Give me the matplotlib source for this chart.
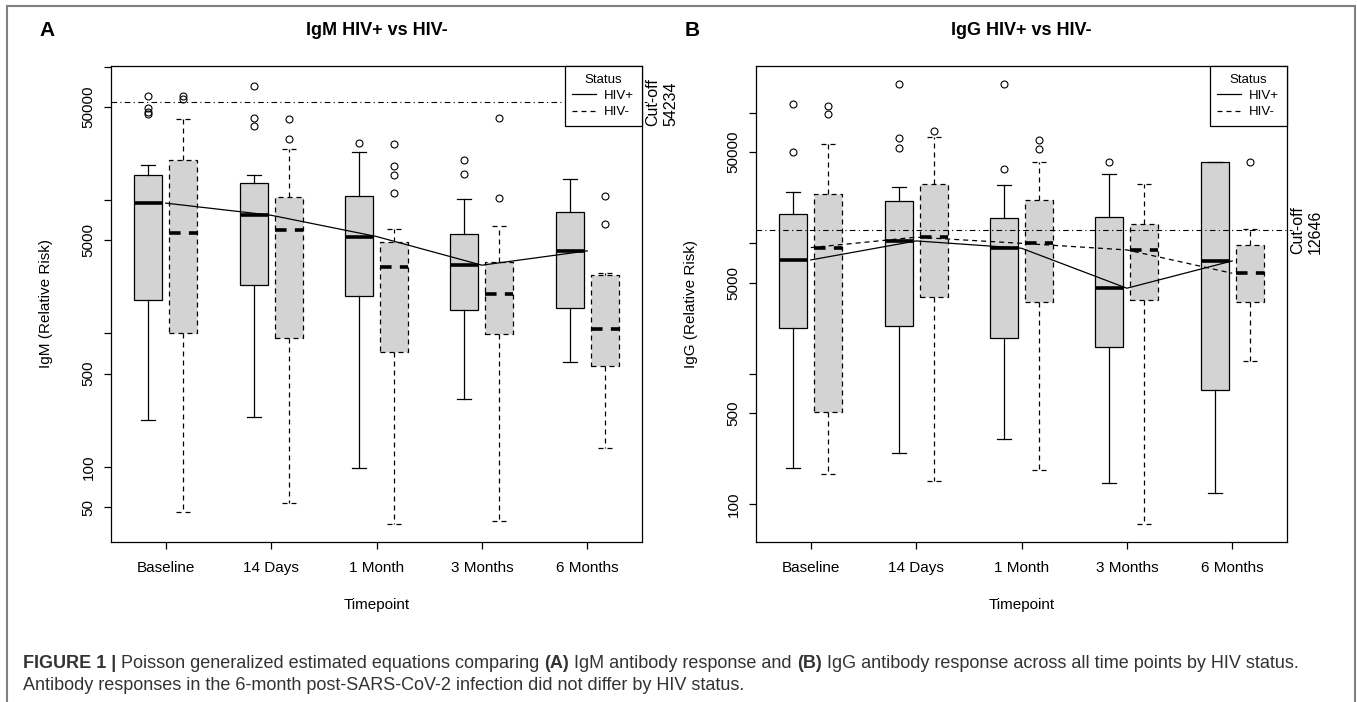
import matplotlib
matplotlib.use('Agg')
import matplotlib.pyplot as plt
import matplotlib.transforms as mtransforms
from matplotlib.lines import Line2D
from matplotlib.patches import Rectangle
from matplotlib.ticker import FixedLocator, FixedFormatter, NullLocator

plt.rcParams['font.family'] = ['Liberation Sans', 'DejaVu Sans']

timepoints = ['Baseline', '14 Days', '1 Month', '3 Months', '6 Months']

# five-number summaries per timepoint: (lower whisker, Q1, median, Q3, upper whisker)
igm_pos_stats = [(225, 1774, 9480, 15500, 18150),
                 (238, 2295, 7690, 13400, 15350),
                 (98, 1910, 5330, 10640, 22800),
                 (325, 1510, 3250, 5610, 10120),
                 (611, 1546, 4160, 8180, 14500)]
igm_pos_out = [[60000, 49000, 46000, 44000], [71000, 41000, 36000], [26900], [20000, 15600], []]

igm_neg_stats = [(45.6, 1016, 5670, 19860, 40700),
                 (53.6, 933, 5970, 10470, 24150),
                 (37.3, 721, 3145, 4830, 6070),
                 (39.5, 989, 1977, 3440, 6440),
                 (139, 574, 1079, 2740, 2850)]
igm_neg_out = [[60000, 56700], [40600, 28700], [26200, 17900, 15500, 11200], [40900, 10280], [10640, 6580]]

igg_pos_stats = [(190, 2262, 7460, 16700, 24750),
                 (250, 2344, 10430, 21240, 27170),
                 (316, 1875, 9170, 15560, 27850),
                 (145, 1609, 4530, 15850, 34200),
                 (122, 753, 7330, 41800, 41800)]
igg_pos_out = [[117000, 50000], [165000, 63800, 54000], [165000, 37100], [41800], []]

igg_neg_stats = [(171, 508, 9270, 24000, 57700),
                 (150, 3907, 11140, 28300, 64900),
                 (184, 3577, 10000, 21600, 41800),
                 (71, 3686, 8900, 14000, 28600),
                 (1264, 3540, 5900, 9720, 12960)]
igg_neg_out = [[112700, 97400], [72600], [61900, 52800], [], [41800]]

igm_cutoff = 54234
igg_cutoff = 12646

igm_ticks = [50, 100, 500, 1000, 5000, 10000, 50000, 100000]
igm_ticklabels = ['50', '100', '500', '', '5000', '', '50000', '']
igg_ticks = [100, 500, 1000, 5000, 10000, 50000, 100000]
igg_ticklabels = ['100', '500', '', '5000', '', '50000', '']


def build_stats(stats, outliers):
    out = []
    for (lo, q1, med, q3, hi), fl in zip(stats, outliers):
        out.append(dict(whislo=lo, q1=q1, med=med, q3=q3, whishi=hi, fliers=fl))
    return out


def draw_boxes(ax, stats, outliers, positions, dashed):
    ls = (0, (4, 3.2)) if dashed else '-'
    mls = (0, (3.2, 2.3)) if dashed else '-'
    ax.bxp(build_stats(stats, outliers), positions=positions, widths=0.8,
           capwidths=0.4, patch_artist=True, manage_ticks=False,
           boxprops=dict(facecolor='#d3d3d3', edgecolor='black', linewidth=0.9, linestyle=ls),
           whiskerprops=dict(color='black', linewidth=0.9, linestyle=ls),
           capprops=dict(color='black', linewidth=0.9, linestyle=ls),
           medianprops=dict(color='black', linewidth=2.6, linestyle=mls),
           flierprops=dict(marker='o', markersize=5, markerfacecolor='none',
                           markeredgecolor='black', markeredgewidth=0.8))


def draw_panel(ax, letter, title, ylabel, pos_stats, pos_out, neg_stats, neg_out,
               cutoff, ylim, ticks, ticklabels, neg_line):
    centers = [1.5, 4.5, 7.5, 10.5, 13.5]
    ax.set_yscale('log')
    draw_boxes(ax, pos_stats, pos_out, [c - 0.5 for c in centers], False)
    draw_boxes(ax, neg_stats, neg_out, [c + 0.5 for c in centers], True)

    # median trend lines
    ax.plot(centers, [s[2] for s in pos_stats], color='black', lw=0.9, zorder=5)
    if neg_line:
        ax.plot(centers, [s[2] for s in neg_stats], color='black', lw=0.9,
                linestyle=(0, (4, 3.2)), zorder=5)

    # cut-off line and label
    trans = mtransforms.blended_transform_factory(ax.transAxes, ax.transData)
    ax.plot([0, 1.01], [cutoff, cutoff], color='black', lw=0.8,
            linestyle=(0, (5, 3, 1, 3)), transform=trans, clip_on=False, zorder=4)
    ax.text(1.006, cutoff, 'Cut-off\n' + str(cutoff), transform=trans, rotation=90,
            ha='left', va='center', fontsize=11.5, linespacing=1.25)

    ax.set_xlim(-0.06, 15.06)
    ax.set_ylim(*ylim)
    ax.set_xticks(centers)
    ax.set_xticklabels(timepoints, fontsize=11)
    ax.yaxis.set_major_locator(FixedLocator(ticks))
    ax.yaxis.set_major_formatter(FixedFormatter(ticklabels))
    ax.yaxis.set_minor_locator(NullLocator())
    ax.tick_params(axis='y', labelrotation=90, labelsize=11, length=5, pad=6, width=0.9)
    ax.tick_params(axis='x', labelsize=11, length=5, pad=9, width=0.9)
    for lab in ax.get_yticklabels():
        lab.set_va('center')
    for sp in ax.spines.values():
        sp.set_linewidth(0.9)

    ax.set_xlabel('Timepoint', fontsize=11)
    ax.set_ylabel(ylabel, fontsize=11)
    ax.xaxis.set_label_coords(0.5, -0.118)
    ax.yaxis.set_label_coords(-0.11, 0.5)

    ax.text(0.5, 1.0756, title, transform=ax.transAxes, ha='center', va='center',
            fontsize=13, fontweight='bold')
    box = ax.get_position()
    ax.figure.text(box.x0 - 64 / 1357, 1 - 30 / 702, letter, ha='center', va='center',
                   fontsize=15, fontweight='bold')

    handles = [Line2D([], [], color='black', lw=0.9),
               Line2D([], [], color='black', lw=0.9, linestyle=(0, (4, 3.2)))]
    leg = ax.legend(handles, ['HIV+', 'HIV-'], title='Status', loc='upper right',
                    borderaxespad=0, fancybox=False, edgecolor='black', framealpha=1,
                    fontsize=9.5, title_fontsize=9.5, handlelength=1.8, handletextpad=0.6,
                    borderpad=0.6, labelspacing=0.3)
    leg.get_frame().set_linewidth(0.9)


def rich_line(fig, x, y, parts, **kw):
    renderer = fig.canvas.get_renderer()
    for s, w in parts:
        t = fig.text(x, y, s, fontweight=w, **kw)
        x += t.get_window_extent(renderer).width / fig.bbox.width


fig = plt.figure(figsize=(13.57, 7.02), dpi=100)
ax_a = fig.add_axes([111 / 1357, 1 - 542 / 702, 531 / 1357, 476 / 702])
ax_b = fig.add_axes([756 / 1357, 1 - 542 / 702, 531 / 1357, 476 / 702])

draw_panel(ax_a, 'A', 'IgM HIV+ vs HIV-', 'IgM (Relative Risk)', igm_pos_stats, igm_pos_out,
           igm_neg_stats, igm_neg_out, igm_cutoff, (27.4, 101000), igm_ticks, igm_ticklabels, False)
draw_panel(ax_b, 'B', 'IgG HIV+ vs HIV-', 'IgG (Relative Risk)', igg_pos_stats, igg_pos_out,
           igg_neg_stats, igg_neg_out, igg_cutoff, (51.6, 228000), igg_ticks, igg_ticklabels, True)

# outer frame of the figure panel
fig.patches.append(Rectangle((7 / 1357, -0.05), 1348 / 1357, 1.05 - 6 / 702, transform=fig.transFigure,
                             fill=False, edgecolor='#808080', linewidth=1.5))

cap = dict(fontsize=12.95, color='#333333', va='center')
rich_line(fig, 23 / 1357, 1 - 663 / 702,
          [('FIGURE 1 |', 'bold'), (' Poisson generalized estimated equations comparing ', 'normal'),
           ('(A)', 'bold'), (' IgM antibody response and ', 'normal'), ('(B)', 'bold'),
           (' IgG antibody response across all time points by HIV status.', 'normal')], **cap)
rich_line(fig, 23 / 1357, 1 - 686 / 702,
          [('Antibody responses in the 6-month post-SARS-CoV-2 infection did not differ by HIV status.', 'normal')],
          **cap)

fig.savefig('out.png', dpi=100)
